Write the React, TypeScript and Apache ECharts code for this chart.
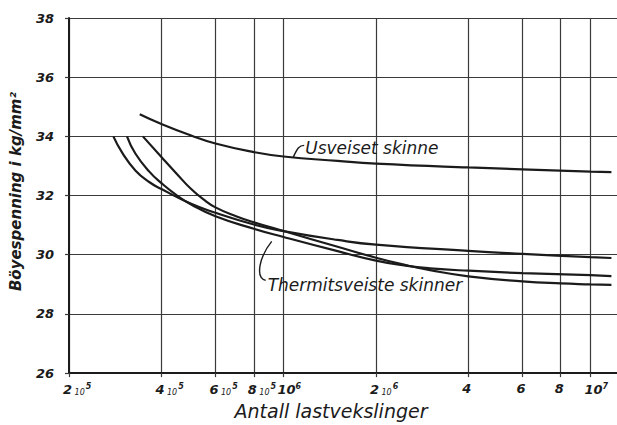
import React, { useEffect, useRef } from "react";
import * as echarts from "echarts";

// ---- axis ticks ----
const yTicks = [26, 28, 30, 32, 34, 36, 38];
const xTickValues = [2e5, 4e5, 6e5, 8e5, 1e6, 2e6, 4e6, 6e6, 8e6, 1e7];
const xTickLabels = [
  "{d|2}{s| 10}{e|5}",
  "{d|4}{s| 10}{e|5}",
  "{d|6}{s| 10}{e|5}",
  "{d|8}{s| 10}{e|5}",
  "{d|10}{e|6}",
  "{d|2}{s| 10}{e|6}",
  "{d|4}",
  "{d|6}",
  "{d|8}",
  "{d|10}{e|7}",
];
const xMin = 2e5;
const xMax = 1.22e7;

// ---- series: unwelded rail ----
const usveisetN = [3.4e5, 4e5, 5e5, 6e5, 8e5, 1e6, 1.5e6, 2e6, 4e6, 1e7, 1.17e7];
const usveisetS = [34.75, 34.42, 34.03, 33.76, 33.47, 33.32, 33.17, 33.08, 32.95, 32.81, 32.79];

// ---- series: thermit-welded rails (three curves) ----
const thermitAN = [2.79e5, 2.98e5, 3.29e5, 3.66e5, 4e5, 5e5, 6e5, 8e5, 1e6, 1.5e6, 2e6, 4e6, 6e6, 1e7, 1.17e7];
const thermitAS = [34.0, 33.45, 32.85, 32.45, 32.22, 31.72, 31.42, 31.02, 30.8, 30.5, 30.34, 30.13, 30.03, 29.92, 29.89];

const thermitBN = [3.09e5, 3.29e5, 3.66e5, 4e5, 4.5e5, 5e5, 6e5, 8e5, 1e6, 1.5e6, 2e6, 2.5e6, 3e6, 4e6, 6e6, 1e7, 1.17e7];
const thermitBS = [34.0, 33.42, 32.8, 32.42, 32.0, 31.7, 31.3, 30.88, 30.6, 30.12, 29.8, 29.63, 29.54, 29.46, 29.38, 29.31, 29.28];

const thermitCN = [3.48e5, 4e5, 4.5e5, 5e5, 5.5e5, 6e5, 7e5, 8e5, 1e6, 1.5e6, 2e6, 2.5e6, 3e6, 4e6, 6e6, 8e6, 1e7, 1.17e7];
const thermitCS = [34.0, 33.3, 32.72, 32.22, 31.86, 31.6, 31.3, 31.1, 30.8, 30.27, 29.9, 29.65, 29.48, 29.27, 29.1, 29.03, 29.0, 28.98];

// ---- annotations (data coordinates of leader start) ----
const usveisetLabel = "Usveiset skinne";
const usveisetAt = [1.075e6, 33.29];
const thermitLabel = "Thermitsveiste skinner";
const thermitAt = [9.15e5, 30.45];

const INK = "#1b1b1b";
const GRID = "#3a3a3a";
const FONT = "DejaVu Sans";

const toPairs = (n: number[], s: number[]) => n.map((v, i) => [Math.log10(v), s[i]]);

function lineSeries(name: string, n: number[], s: number[]) {
  return {
    name,
    type: "line",
    data: toPairs(n, s),
    smooth: 0.5,
    showSymbol: false,
    symbol: "none",
    lineStyle: { color: INK, width: 2.2 },
    z: 5,
  };
}

export default function App() {
  const ref = useRef<HTMLDivElement>(null);
  useEffect(() => {
    if (!ref.current) return;
    const chart = echarts.init(ref.current, undefined, { renderer: "svg" });
    const xLogTicks = xTickValues.map((v) => Math.log10(v));
    chart.setOption({
      animation: false,
      backgroundColor: "#ffffff",
      grid: { left: 69, right: 0, top: 18, bottom: 46, containLabel: false },
      xAxis: {
        type: "value",
        min: Math.log10(xMin),
        max: Math.log10(xMax),
        name: "Antall lastvekslinger",
        nameLocation: "middle",
        nameGap: 23,
        nameTextStyle: {
          fontFamily: FONT,
          fontStyle: "italic",
          fontSize: 19,
          color: INK,
          padding: [0, 24, 0, 0],
        },
        axisLine: { show: true, onZero: false, lineStyle: { color: INK, width: 2 } },
        axisTick: {
          show: true,
          customValues: xLogTicks,
          length: 4,
          lineStyle: { color: GRID, width: 1.2 },
        },
        splitLine: { show: true, lineStyle: { color: GRID, width: 1.2 } },
        axisLabel: {
          customValues: xLogTicks,
          margin: 9,
          align: "left",
          padding: [0, 0, 0, -6],
          formatter: (v: number) => {
            let best = 0;
            let bd = Infinity;
            xLogTicks.forEach((t, i) => {
              const d = Math.abs(t - v);
              if (d < bd) {
                bd = d;
                best = i;
              }
            });
            return xTickLabels[best];
          },
          rich: {
            d: { fontFamily: FONT, fontStyle: "italic", fontWeight: "bold", fontSize: 13, color: INK, verticalAlign: "bottom" },
            s: { fontFamily: FONT, fontStyle: "italic", fontSize: 8, color: INK, verticalAlign: "bottom", padding: [0, 1, 0, 0] },
            e: { fontFamily: FONT, fontStyle: "italic", fontWeight: "bold", fontSize: 8, color: INK, verticalAlign: "bottom", padding: [0, 0, 6, 0] },
          },
        },
      },
      yAxis: {
        type: "value",
        min: yTicks[0],
        max: yTicks[yTicks.length - 1],
        interval: 2,
        name: "Böyespenning i kg/mm²",
        nameLocation: "middle",
        nameGap: 46,
        nameRotate: 90,
        nameTextStyle: {
          fontFamily: FONT,
          fontStyle: "italic",
          fontWeight: "bold",
          fontSize: 15,
          color: INK,
          padding: [0, 0, 0, 8],
        },
        axisLine: { show: true, lineStyle: { color: INK, width: 2 } },
        axisTick: { show: true, length: 4, lineStyle: { color: GRID, width: 1.2 } },
        splitLine: { show: true, lineStyle: { color: GRID, width: 1.2 } },
        axisLabel: {
          margin: 15,
          fontFamily: FONT,
          fontStyle: "italic",
          fontWeight: "bold",
          fontSize: 13,
          color: INK,
        },
      },
      series: [
        lineSeries("Usveiset skinne", usveisetN, usveisetS),
        lineSeries("Thermitsveiste skinner A", thermitAN, thermitAS),
        lineSeries("Thermitsveiste skinner B", thermitBN, thermitBS),
        lineSeries("Thermitsveiste skinner C", thermitCN, thermitCS),
      ],
    });

    const pU = chart.convertToPixel({ gridIndex: 0 }, [Math.log10(usveisetAt[0]), usveisetAt[1]]) as number[];
    const pT = chart.convertToPixel({ gridIndex: 0 }, [Math.log10(thermitAt[0]), thermitAt[1]]) as number[];
    const textStyle = { fontFamily: FONT, fontStyle: "italic", fontSize: 17, fill: INK };
    chart.setOption({
      graphic: [
        {
          type: "bezierCurve",
          shape: { x1: pU[0], y1: pU[1], cpx1: pU[0] + 4, cpy1: pU[1] - 9, cpx2: pU[0] + 6, cpy2: pU[1] - 12, x2: pU[0] + 11, y2: pU[1] - 12 },
          style: { stroke: INK, lineWidth: 1.4, fill: "none" },
          z: 10,
        },
        {
          type: "text",
          x: pU[0] + 12,
          y: pU[1] - 9,
          style: { ...textStyle, text: usveisetLabel, textAlign: "left", textVerticalAlign: "middle" },
          z: 10,
        },
        {
          type: "bezierCurve",
          shape: { x1: pT[0], y1: pT[1], cpx1: pT[0] - 12, cpy1: pT[1] + 15, cpx2: pT[0] - 17, cpy2: pT[1] + 36, x2: pT[0] - 6, y2: pT[1] + 39 },
          style: { stroke: INK, lineWidth: 1.4, fill: "none" },
          z: 10,
        },
        {
          type: "text",
          x: pT[0] - 4,
          y: pT[1] + 44,
          style: { ...textStyle, text: thermitLabel, textAlign: "left", textVerticalAlign: "middle" },
          z: 10,
        },
      ],
    });
    return () => chart.dispose();
  }, []);
  return (
    <div
      ref={ref}
      style={{ position: "fixed", left: 0, top: 0, width: 617, height: 425, background: "#fff" }}
    />
  );
}
